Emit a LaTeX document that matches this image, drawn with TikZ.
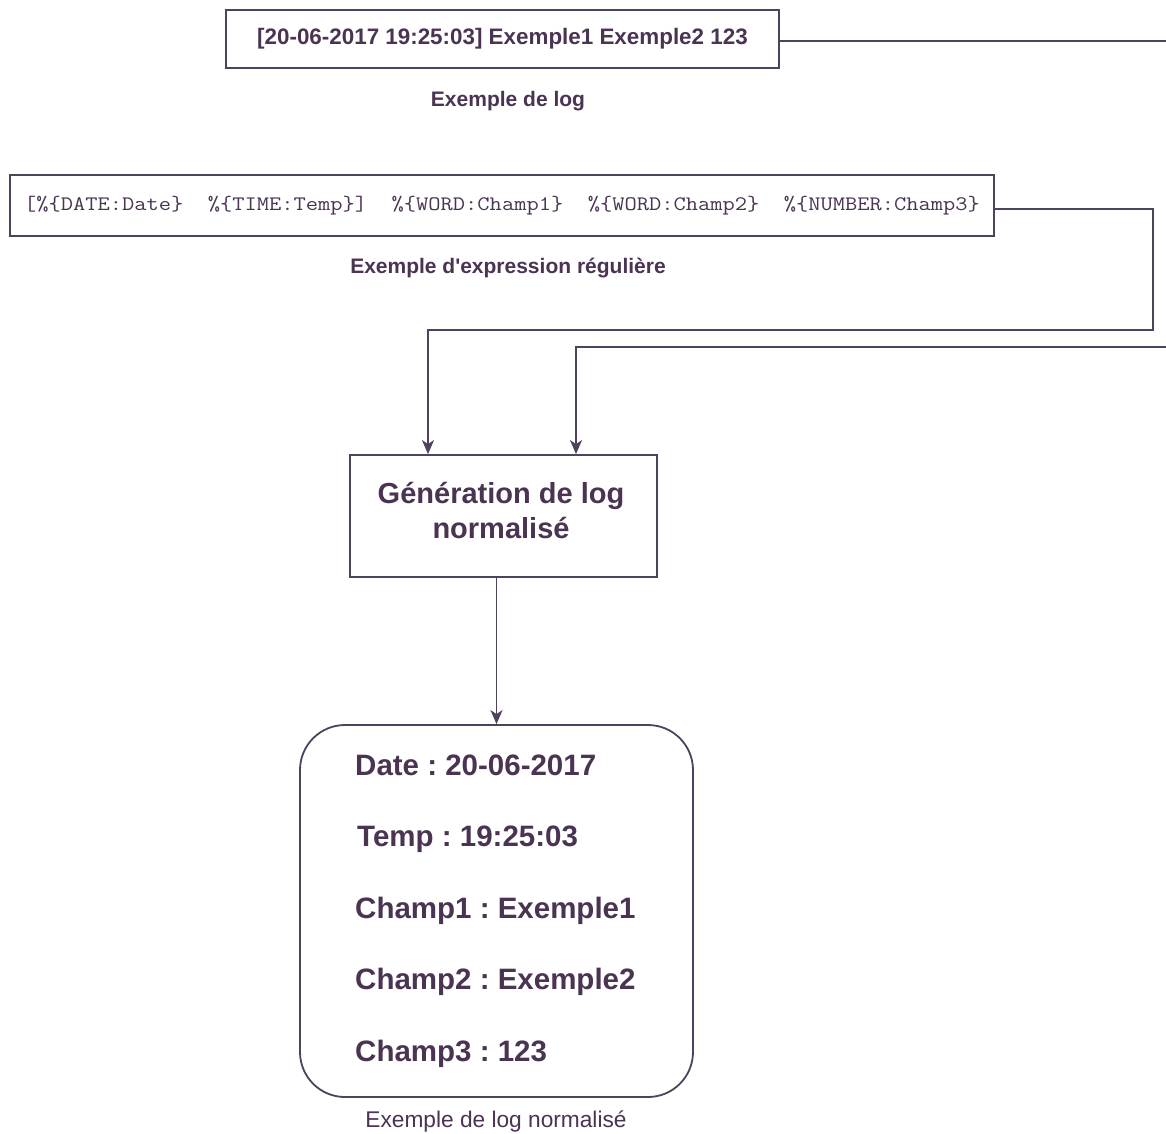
\documentclass[tikz,border=0pt]{standalone}
\usepackage{fontspec}
\setmainfont{Liberation Sans}
\newfontfamily\plainsans{Liberation Sans}
\newfontfamily\regexfont[FakeStretch=1.155]{Latin Modern Mono}
\usetikzlibrary{arrows.meta}

\definecolor{linec}{RGB}{78,66,92}
\definecolor{txt}{RGB}{74,52,82}

\tikzset{
  ln/.style={draw=linec, line width=1.6pt},
  arr/.style={ln, -{Stealth[length=14pt,width=12pt,inset=4pt]}},
  box/.style={draw=linec, line width=1.8pt, inner sep=0pt, text=txt},
  caption/.style={text=txt, inner sep=0pt},
  field/.style={text=txt, inner sep=0pt, anchor=base west,
    font=\fontsize{29.5}{34}\selectfont\bfseries},
}

\begin{document}
\frenchspacing
\begin{tikzpicture}[x=1pt,y=-1pt]
  \useasboundingbox (0,0) rectangle (1166,1133);
  \clip (0,0) rectangle (1166,1133);
  \fill[white] (0,0) rectangle (1166,1133);

  % raw log line
  \node[box, minimum width=553pt, minimum height=58pt,
        font=\fontsize{22.4}{26}\selectfont\bfseries] (raw) at (502.5,39)
        {[20-06-2017 19:25:03] Exemple1 Exemple2 123};
  \node[caption, font=\fontsize{21}{25}\selectfont\bfseries] (rawcap) at (508,101) {Exemple de log};

  % grok pattern
  \node[box, minimum width=984pt, minimum height=61pt,
        font=\fontsize{20.6}{24}\regexfont] (pat) at (502,205.5)
        {[\%\{DATE:Date\}\ \ \%\{TIME:Temp\}]\ \ \%\{WORD:Champ1\}\ \ \%\{WORD:Champ2\}\ \ \%\{NUMBER:Champ3\}};
  \node[caption, font=\fontsize{21}{25}\plainsans\bfseries] (patcap) at (508,268) {Exemple d'expression régulière};

  % generation step
  \node[box, minimum width=307pt, minimum height=122pt] (gen) at (503.5,516) {};
  \node[text=txt, align=center, inner sep=0pt,
        font=\fontsize{29}{35}\selectfont\bfseries] (gentext) at (501,510)
        {Génération de log\\normalisé};

  % normalised record
  \node[box, rounded corners=45pt, minimum width=393pt, minimum height=372pt] (res) at (496.5,911) {};
  \node[field] (f1) at (355,775)  {Date : 20-06-2017};
  \node[field] (f2) at (357,846)  {Temp : 19:25:03};
  \node[field] (f3) at (355,918)  {Champ1 : Exemple1};
  \node[field] (f4) at (355,989)  {Champ2 : Exemple2};
  \node[field] (f5) at (355,1061) {Champ3 : 123};
  \node[caption, font=\fontsize{22.7}{26}\selectfont] (rescap) at (496,1121) {Exemple de log normalisé};

  % connectors
  \coordinate (in1) at ([xshift=-75.5pt]gen.north);
  \coordinate (in2) at ([xshift=72.5pt]gen.north);
  \coordinate (e1) at (1175,347);
  \coordinate (e2) at (1153,330);

  \draw[arr] (raw.east |- 0,41) -- (1175,41) -- (e1) -| (in2);
  \draw[arr] (pat.east |- 0,209) -- (1153,209) -- (e2) -| (in1);
  \draw[arr] (gen.south -| res.north) -- (res.north);
\end{tikzpicture}
\end{document}
